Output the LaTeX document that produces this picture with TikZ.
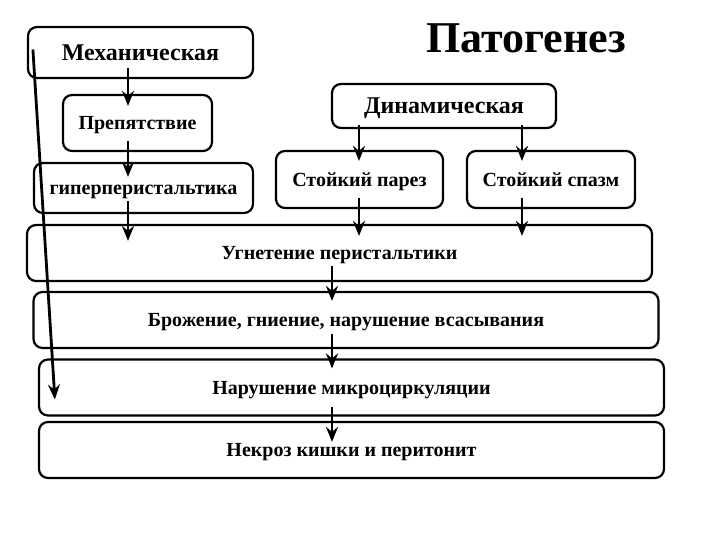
\documentclass[tikz,border=0pt]{standalone}
\usepackage{fontspec}
\setmainfont{Liberation Serif}
\usetikzlibrary{arrows.meta}
\begin{document}
\begin{tikzpicture}[x=1pt, y=-1pt, >={Stealth[length=15pt,width=12pt,inset=5pt]},
	box/.style={draw, line width=2.2pt, rounded corners=9pt, inner sep=0pt, align=center},
	bigtext/.style={font=\fontsize{24}{26}\selectfont\bfseries, text height=17.8pt, text depth=2pt},
	normtext/.style={font=\fontsize{20}{22}\selectfont\bfseries, text height=15pt, text depth=1.8pt},
	arr/.style={->, line width=2.8pt}]
	\useasboundingbox (0,0) rectangle (720,540);

	% Columns of the arrows
		\coordinate (lcol) at (128,0);
		\coordinate (pcol) at (359,0);
		\coordinate (scol) at (522,0);
		\coordinate (mcol) at (332,0);

	% Title
		\node (title) at (526,38) {\fontsize{44}{48}\selectfont\bfseries Патогенез};

	% Mechanical branch
		\node [box, bigtext, minimum width=225pt, minimum height=51pt] (mech) at (140.5,52.5) {Механическая};
		\node [box, normtext, minimum width=149pt, minimum height=56pt] (prep) at (137.5,123) {Препятствие};
		\node [box, normtext, minimum width=219pt, minimum height=50pt] (hyper) at (143.5,188) {гиперперистальтика};

	% Dynamic branch
		\node [box, bigtext, minimum width=224pt, minimum height=44pt] (dyn) at (444,106) {Динамическая};
		\node [box, normtext, minimum width=167pt, minimum height=57pt] (pares) at (359.5,179.5) {Стойкий парез};
		\node [box, normtext, minimum width=168pt, minimum height=57pt] (spasm) at (551,179.5) {Стойкий спазм};

	% The common chain
		\foreach \name/\cx/\cy/\lab in {
			ugn/339.5/253/{Угнетение перистальтики},
			brozh/346/320/{Брожение, гниение, нарушение всасывания},
			narush/351.5/387.5/{Нарушение микроциркуляции},
			nekr/351.5/450/{Некроз кишки и перитонит}} {
				\node [box, normtext, minimum width=625pt, minimum height=56pt] (\name) at (\cx,\cy) {\lab};
				}

	% Arrows
		\draw [arr] ([yshift=11pt]mech.south -| lcol) -- ([yshift=-12pt]prep.north -| lcol);
		\draw [arr] ([yshift=11pt]prep.south -| lcol) -- ([yshift=-15pt]hyper.north -| lcol);
		\draw [arr] ([yshift=13pt]hyper.south -| lcol) -- ([yshift=-17pt]ugn.north -| lcol);
		\draw [arr] ([yshift=4pt]dyn.south -| pcol) -- ([yshift=-11pt]pares.north -| pcol);
		\draw [arr] ([yshift=4pt]dyn.south -| scol) -- ([yshift=-11pt]spasm.north -| scol);
		\draw [arr] ([yshift=11pt]pares.south -| pcol) -- ([yshift=-12pt]ugn.north -| pcol);
		\draw [arr] ([yshift=11pt]spasm.south -| scol) -- ([yshift=-12pt]ugn.north -| scol);
		\foreach \a/\b/\s/\e in {ugn/brozh/16/-10, brozh/narush/15/-10, narush/nekr/10/-21} {
			\draw [arr] ([yshift=\s pt]\a.south -| mcol) -- ([yshift=\e pt]\b.north -| mcol);
			}

	% The long arrow along the left side
		\draw [arr] ([xshift=6pt,yshift=3pt]mech.west) -- ([xshift=17pt,yshift=-12pt]narush.west);

\end{tikzpicture}
\end{document}
